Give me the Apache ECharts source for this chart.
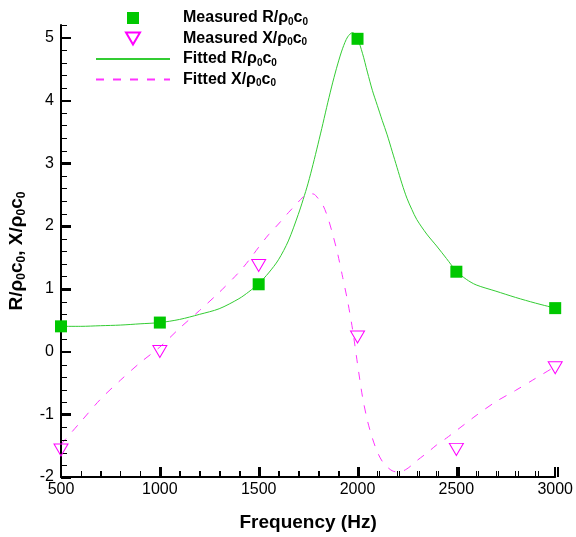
<!DOCTYPE html>
<html>
<head>
<meta charset="utf-8">
<script src="https://cdn.jsdelivr.net/npm/echarts@6/dist/echarts.min.js"></script>
<style>
	html, body { margin: 0; padding: 0; background: #fff; }
	#chart { width: 576px; height: 537px; }
</style>
</head>
<body>
<div id="chart"></div>
<script>
// measured points
const measFreq = [500, 1000, 1500, 2000, 2500, 3000]
const measR = [0.40, 0.46, 1.07, 4.98, 1.27, 0.69]
const measX = [-1.57, 0.00, 1.37, 0.23, -1.56, -0.26]

// fitted curves
const fitFreq = [500, 600, 700, 800, 900, 1000, 1100, 1200, 1300, 1400, 1450, 1500, 1550, 1600, 1650, 1700,
	1725, 1750, 1775, 1800, 1825, 1850, 1875, 1900, 1925, 1950, 1975, 2000, 2025, 2050, 2075, 2100, 2125,
	2150, 2175, 2200, 2225, 2250, 2275, 2300, 2350, 2400, 2450, 2500, 2550, 2600, 2700, 2800, 2900, 3000]
const fitR = [0.40, 0.40, 0.41, 0.42, 0.44, 0.46, 0.51, 0.59, 0.68, 0.84, 0.95, 1.08, 1.25, 1.46, 1.76, 2.18,
	2.42, 2.68, 2.98, 3.30, 3.63, 3.97, 4.29, 4.58, 4.83, 5.01, 5.08, 4.98, 4.75, 4.45, 4.16, 3.92, 3.68,
	3.45, 3.19, 2.93, 2.67, 2.44, 2.26, 2.10, 1.87, 1.68, 1.48, 1.28, 1.15, 1.06, 0.96, 0.86, 0.77, 0.69]
const fitX = [-1.48, -1.12, -0.76, -0.46, -0.18, 0.07, 0.37, 0.65, 0.94, 1.26, 1.45, 1.66, 1.86, 2.03, 2.21, 2.38,
	2.46, 2.51, 2.51, 2.44, 2.33, 2.13, 1.86, 1.55, 1.18, 0.80, 0.35, -0.20, -0.72, -1.10, -1.38, -1.60, -1.75,
	-1.84, -1.90, -1.92, -1.91, -1.87, -1.81, -1.74, -1.62, -1.49, -1.38, -1.26, -1.14, -1.02, -0.80, -0.62, -0.43, -0.24]

const yLabels = [-2, -1, 0, 1, 2, 3, 4, 5]

const names = ['Measured R/ρ0c0', 'Measured X/ρ0c0', 'Fitted R/ρ0c0', 'Fitted X/ρ0c0']
const legendRich = {
	f: { fontSize: 16, fontWeight: 'bold', lineHeight: 18, padding: [0, 0, 0, 8] },
	b: { fontSize: 16, fontWeight: 'bold', lineHeight: 18 },
	s: { fontSize: 10, fontWeight: 'bold', lineHeight: 10, verticalAlign: 'bottom' }
}
const titleRich = {
	b: { fontSize: 19, fontWeight: 'bold', lineHeight: 22, fill: '#000', color: '#000' },
	s: { fontSize: 12, fontWeight: 'bold', lineHeight: 12, verticalAlign: 'bottom', fill: '#000', color: '#000' }
}

const zip = (xs, ys) => xs.map((x, i) => [x, ys[i]])

// thin strips along the axes, their split lines act as tick marks
const tickAxis = (gridIndex, min, max, interval, width) => ({
	type: 'value',
	gridIndex,
	z: 10,
	min,
	max,
	interval,
	axisLine: { show: false },
	axisTick: { show: false },
	axisLabel: { show: false },
	splitLine: { show: true, showMaxLine: max !== 5.2 || interval < 1, lineStyle: { color: '#000', width } }
})
const hiddenAxis = (gridIndex) => ({ type: 'value', gridIndex, show: false })

const chart = echarts.init(document.getElementById('chart'))
const option = {
	animation: false,
	textStyle: { fontFamily: 'Liberation Sans, Arial, sans-serif', color: '#000' },
	grid: [
		{ left: 61, right: 18, top: 25, bottom: 59 },
		{ left: 61, right: 18, top: 467, height: 10 },
		{ left: 61, right: 18, top: 471, height: 6 },
		{ left: 61, width: 10, top: 25, bottom: 59 },
		{ left: 61, width: 6, top: 25, bottom: 59 }
	],
	// y title with subscripts
	graphic: [{
		type: 'text',
		x: 17,
		y: 251,
		rotation: Math.PI / 2,
		style: {
			text: '{b|R/ρ}{s|0}{b|c}{s|0}{b|, X/ρ}{s|0}{b|c}{s|0}',
			rich: titleRich,
			font: 'bold 19px Liberation Sans, Arial, sans-serif',
			fill: '#000',
			align: 'center',
			verticalAlign: 'middle'
		}
	}],
	legend: {
		orient: 'vertical',
		left: 95,
		top: 10,
		padding: 0,
		itemGap: 3.5,
		itemWidth: 74,
		itemHeight: 12,
		selectedMode: false,
		textStyle: { color: '#000', rich: legendRich },
		formatter: (name) => {
			const head = name.split('ρ')[0]
			return '{f|' + head + 'ρ}{s|0}{b|c}{s|0}'
		},
		data: [
			{ name: names[0], icon: 'path://M0,0M74,12M31,0L43,0L43,12L31,12Z' },
			{ name: names[1], icon: 'path://M0,0M74,12M30,0L44,0L37,12Z' },
			{ name: names[2], itemStyle: { opacity: 0 } },
			{ name: names[3], itemStyle: { opacity: 0 } }
		]
	},
	xAxis: [{
		type: 'value',
		gridIndex: 0,
		z: 10,
		min: 500,
		max: 3000,
		interval: 500,
		name: 'Frequency (Hz)',
		nameLocation: 'middle',
		nameGap: 36,
		nameTextStyle: { fontSize: 19, fontWeight: 'bold', color: '#000' },
		axisLine: { show: true, onZero: false, lineStyle: { color: '#000', width: 2 } },
		axisTick: { show: true, inside: true, length: 10, lineStyle: { color: '#000', width: 2 } },
		minorTick: { show: true, splitNumber: 5, length: 6, lineStyle: { color: '#000', width: 1 } },
		axisLabel: { fontSize: 16, color: '#000', margin: 5, formatter: (v) => String(v) },
		splitLine: { show: false }
	},
	tickAxis(1, 500, 3000, 500, 2),
	tickAxis(2, 500, 3000, 100, 1),
	hiddenAxis(3),
	hiddenAxis(4)],
	yAxis: [{
		type: 'value',
		gridIndex: 0,
		z: 10,
		min: -2,
		max: 5.2,
		interval: 1,
		axisLine: { show: true, onZero: false, lineStyle: { color: '#000', width: 2 } },
		axisTick: { show: true, inside: true, length: 10, customValues: yLabels, lineStyle: { color: '#000', width: 2 } },
		axisLabel: { fontSize: 16, color: '#000', margin: 7, customValues: yLabels },
		splitLine: { show: false }
	},
	hiddenAxis(1),
	hiddenAxis(2),
	tickAxis(3, -2, 5.2, 1, 2),
	tickAxis(4, -2, 5.2, 0.2, 1)],
	series: [{
		name: names[2],
		type: 'line',
		data: zip(fitFreq, fitR),
		smooth: 0.3,
		symbol: 'none',
		showSymbol: false,
		itemStyle: { color: 'rgba(0,0,0,0)', borderWidth: 0 },
		lineStyle: { color: '#33cc33', width: 1 },
		z: 3
	}, {
		name: names[3],
		type: 'line',
		data: zip(fitFreq, fitX),
		smooth: 0.3,
		symbol: 'none',
		showSymbol: false,
		itemStyle: { color: 'rgba(0,0,0,0)', borderWidth: 0 },
		lineStyle: { color: '#ff33ff', width: 1, type: [8, 9] },
		z: 3
	}, {
		name: names[0],
		type: 'scatter',
		data: zip(measFreq, measR),
		symbol: 'rect',
		symbolSize: 12,
		itemStyle: { color: '#00c800', opacity: 1 },
		z: 12
	}, {
		name: names[1],
		type: 'scatter',
		data: zip(measFreq, measX),
		symbol: 'path://M0,0L14,0L7,12Z',
		symbolSize: [14, 12],
		itemStyle: { color: 'rgba(0,0,0,0)', borderColor: '#ff00ff', borderWidth: 1, opacity: 1 },
		z: 12
	}]
}
chart.setOption(option)
</script>
</body>
</html>
